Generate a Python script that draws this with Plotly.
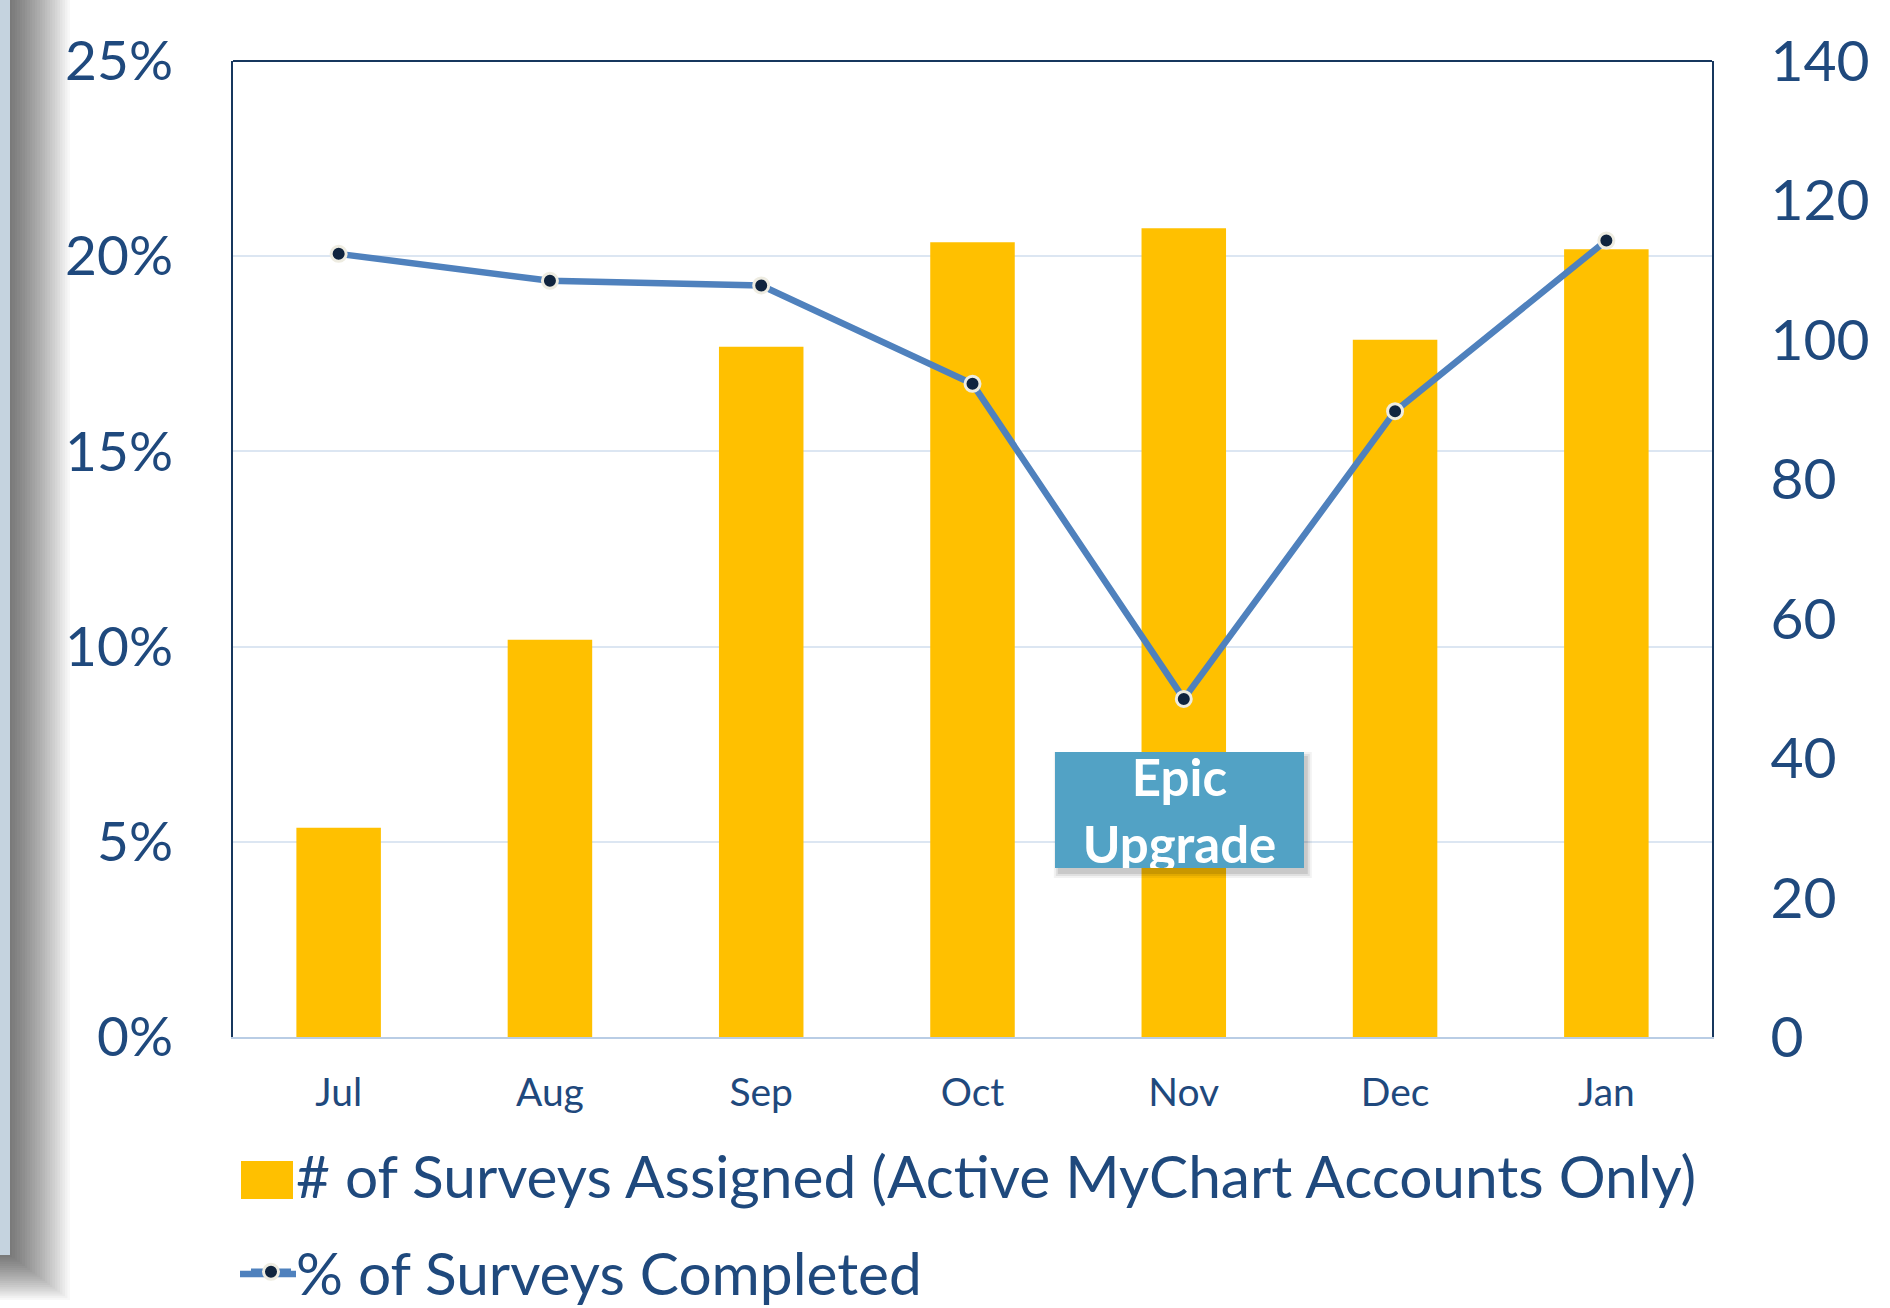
import plotly.graph_objects as go

# ---------------- data ----------------
months = ["Jul", "Aug", "Sep", "Oct", "Nov", "Dec", "Jan"]
surveys_assigned = [30, 57, 99, 114, 116, 100, 113]
pct_completed = [0.2006, 0.1937, 0.1925, 0.1673, 0.0866, 0.1603, 0.2040]
left_ticks = [0, 0.05, 0.10, 0.15, 0.20, 0.25]
right_ticks = [0, 20, 40, 60, 80, 100, 120, 140]
bar_name = "# of Surveys Assigned (Active MyChart Accounts Only)"
line_name = "% of Surveys Completed"
note_text = "Epic<br>Upgrade"
note_month = "Nov"

# ---------------- styles ----------------
W, H = 1890, 1308
L, R, T, B = 233, 178, 61, 271          # plot area 233..1712 x 61..1037
TEXT = "#1F497D"
NAVY = "#17375E"
BAR = "#FFC000"
LINE = "#4F81BD"
GRID = "#DCE6F2"
FONT = "Lato"


def px_x(px):
    return px - L


def px_y(py):
    return T - py


def pixel_rect(x0, x1, y0, y1, **kw):
    d = dict(type="rect", xref="paper", yref="paper", xsizemode="pixel", ysizemode="pixel",
             xanchor=0, yanchor=1, x0=px_x(x0), x1=px_x(x1), y0=px_y(y0), y1=px_y(y1))
    d.update(kw)
    return d


fig = go.Figure()

fig.add_trace(go.Bar(
    x=months, y=surveys_assigned, name=bar_name,
    marker=dict(color=BAR, line=dict(width=0)),
    yaxis="y", legendgroup="a",
))
fig.add_trace(go.Scatter(
    x=months, y=pct_completed, name=line_name, mode="lines+markers",
    line=dict(color=LINE, width=6.5),
    marker=dict(color="#10243E", size=15, line=dict(color="#EEECE1", width=3)),
    yaxis="y2", legendgroup="b",
))

shapes = []
# left slide-edge shadow (stacked translucent rectangles)
N = 24
for k in range(1, N + 1):
    r = k * 2.5
    shapes.append(pixel_rect(0, 10 + r, 0, 1255 + r * 0.75,
                             fillcolor="rgba(0,0,0,0.028)", line=dict(width=0), layer="below"))
# light blue-gray slide edge strip
shapes.append(pixel_rect(0, 10, 0, 1255, fillcolor="#C5D3DF", line=dict(width=0), layer="below"))
# top border of plot frame
shapes.append(dict(type="line", xref="paper", yref="paper", x0=0, x1=1, y0=1, y1=1,
                   line=dict(color=NAVY, width=2), layer="above"))

# larger legend keys (Excel-style) under the native legend symbols
shapes.append(pixel_rect(241, 293, 1161, 1199, fillcolor=BAR, line=dict(width=0), layer="above"))
shapes.append(dict(type="line", xref="paper", yref="paper", xsizemode="pixel", ysizemode="pixel",
                   xanchor=0, yanchor=1, x0=px_x(240), x1=px_x(296),
                   y0=px_y(1274), y1=px_y(1274),
                   line=dict(color=LINE, width=6.5), layer="above"))

# soft shadow behind annotation box
note_idx = months.index(note_month)
note_y = (1037 - 811) / 976
for g, a in [(4, 0.05), (2, 0.07), (0, 0.10)]:
    shapes.append(dict(
        type="rect", xref="x", yref="paper", xsizemode="pixel", ysizemode="pixel",
        xanchor=note_idx, yanchor=note_y,
        x0=-129 + 3 - g, x1=120 + 4 + g, y0=-58 - 5 - g, y1=58 - 3 + g,
        fillcolor=f"rgba(0,0,0,{a})", line=dict(width=0), layer="above",
    ))

fig.update_layout(
    width=W, height=H,
    margin=dict(l=L, r=R, t=T, b=B, autoexpand=False),
    paper_bgcolor="white", plot_bgcolor="white",
    font=dict(family=FONT, color=TEXT),
    bargap=0.6,
    showlegend=True,
    legend=dict(
        orientation="v", x=(246 - L) / (W - L - R), xanchor="left",
        y=(1037 - 1131) / 976, yanchor="top",
        font=dict(family=FONT, size=58.6, color=TEXT),
        traceorder="grouped", tracegroupgap=17,
        bgcolor="rgba(0,0,0,0)", itemwidth=40,
    ),
    xaxis=dict(
        type="category", categoryarray=months,
        showline=True, linecolor="#B9CDE5", linewidth=2,
        ticks="outside", ticklen=20, tickcolor="rgba(0,0,0,0)",
        tickfont=dict(family=FONT, size=39, color=TEXT),
        showgrid=False, zeroline=False,
    ),
    yaxis=dict(
        side="right", range=[0, 140], tickvals=right_ticks,
        showline=True, linecolor=NAVY, linewidth=2,
        ticks="outside", ticklen=45, tickcolor="rgba(0,0,0,0)",
        tickfont=dict(family=FONT, size=57, color=TEXT),
        showgrid=False, zeroline=False,
    ),
    yaxis2=dict(
        side="left", overlaying="y", range=[0, 0.25], tickvals=left_ticks,
        tickformat=".0%",
        showline=True, linecolor=NAVY, linewidth=2,
        ticks="outside", ticklen=47, tickcolor="rgba(0,0,0,0)",
        tickfont=dict(family=FONT, size=55, color=TEXT),
        showgrid=True, gridcolor=GRID, gridwidth=2, zeroline=False,
    ),
    shapes=shapes,
    annotations=[dict(
        text=note_text, xref="x", yref="paper", x=note_month, y=note_y,
        xanchor="center", yanchor="middle",
        xshift=-4.5, yshift=1, showarrow=False, width=249, height=116,
        bgcolor="#52A2C5", borderpad=0, borderwidth=0, align="center", valign="middle",
        font=dict(family=FONT, size=51, color="white", weight="bold"),
    )],
)

fig.write_html("out.html", config={"displayModeBar": False},
               post_script="document.body.style.margin='0px';")
